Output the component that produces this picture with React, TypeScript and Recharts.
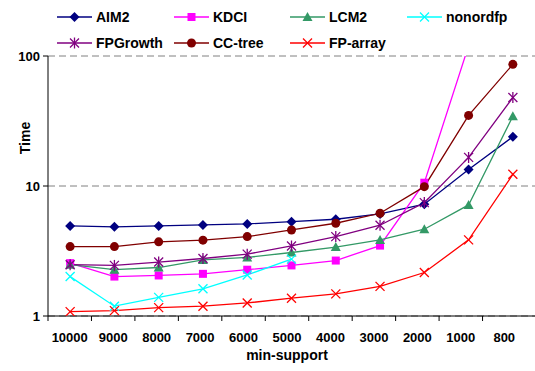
import { LineChart, Line, XAxis, YAxis, CartesianGrid } from "recharts";

const categories = ["10000", "9000", "8000", "7000", "6000", "5000", "4000", "3000", "2000", "1000", "800"];

const aim2 = [4.93, 4.85, 4.93, 5.02, 5.11, 5.32, 5.55, 6.1, 7.24, 13.4, 23.9];
const kdci = [2.55, 2.01, 2.05, 2.11, 2.27, 2.45, 2.67, 3.48, 10.6, 120, null];
const lcm2 = [2.48, 2.27, 2.36, 2.7, 2.82, 3.08, 3.39, 3.85, 4.65, 7.15, 34.4];
const nonordfp = [2.01, 1.19, 1.39, 1.62, 2.07, 2.74, null, null, null, null, null];
const fpgrowth = [2.48, 2.45, 2.6, 2.77, 2.99, 3.46, 4.08, 4.99, 7.45, 16.6, 47.9];
const cctree = [3.42, 3.42, 3.72, 3.83, 4.08, 4.59, 5.17, 6.17, 9.88, 34.9, 86.3];
const fparray = [1.08, 1.1, 1.16, 1.19, 1.26, 1.37, 1.48, 1.69, 2.16, 3.85, 12.3];

const yTicks = [1, 10, 100];

type Shape = "diamond" | "square" | "triangle" | "x" | "star" | "circle";

const series: { key: string; name: string; values: (number | null)[]; color: string; shape: Shape }[] = [
  { key: "aim2", name: "AIM2", values: aim2, color: "#000080", shape: "diamond" },
  { key: "kdci", name: "KDCI", values: kdci, color: "#FF00FF", shape: "square" },
  { key: "lcm2", name: "LCM2", values: lcm2, color: "#339966", shape: "triangle" },
  { key: "nonordfp", name: "nonordfp", values: nonordfp, color: "#00FFFF", shape: "x" },
  { key: "fpgrowth", name: "FPGrowth", values: fpgrowth, color: "#800080", shape: "star" },
  { key: "cctree", name: "CC-tree", values: cctree, color: "#800000", shape: "circle" },
  { key: "fparray", name: "FP-array", values: fparray, color: "#FF0000", shape: "x" },
];

const data = categories.map((c, i) => {
  const row: Record<string, any> = { cat: c };
  series.forEach((s) => (row[s.key] = s.values[i]));
  return row;
});

const FONT = "'Liberation Sans', Arial, sans-serif";

function marker(shape: Shape, color: string, cx: number, cy: number, key?: any) {
  switch (shape) {
    case "diamond":
      return <polygon key={key} points={`${cx},${cy - 5} ${cx + 5},${cy} ${cx},${cy + 5} ${cx - 5},${cy}`} fill={color} />;
    case "square":
      return <rect key={key} x={cx - 4} y={cy - 4} width={8} height={8} fill={color} />;
    case "triangle":
      return <polygon key={key} points={`${cx},${cy - 5} ${cx + 5},${cy + 4} ${cx - 5},${cy + 4}`} fill={color} />;
    case "circle":
      return <circle key={key} cx={cx} cy={cy} r={4.5} fill={color} />;
    case "x":
      return (
        <g key={key} stroke={color} strokeWidth={1.3}>
          <line x1={cx - 4.5} y1={cy - 4.5} x2={cx + 4.5} y2={cy + 4.5} />
          <line x1={cx - 4.5} y1={cy + 4.5} x2={cx + 4.5} y2={cy - 4.5} />
        </g>
      );
    case "star":
      return (
        <g key={key} stroke={color} strokeWidth={1.3}>
          <line x1={cx - 4.5} y1={cy - 4.5} x2={cx + 4.5} y2={cy + 4.5} />
          <line x1={cx - 4.5} y1={cy + 4.5} x2={cx + 4.5} y2={cy - 4.5} />
          <line x1={cx} y1={cy - 5.5} x2={cx} y2={cy + 5.5} />
        </g>
      );
  }
}

const makeDot = (shape: Shape, color: string) => (props: any) => {
  const { cx, cy, value, key } = props;
  if (value == null || cx == null || cy == null || value > 100) return <g key={key} />;
  return marker(shape, color, cx, cy, key);
};

const BAND = 43.45;

const XTick = (props: any) => {
  const { x, y, payload } = props;
  return (
    <g>
      <line x1={x - BAND / 2} y1={y - 8} x2={x - BAND / 2} y2={y - 3} stroke="#000" />
      <text x={x} y={y + 18} textAnchor="middle" fontFamily={FONT} fontWeight="bold" fontSize={13} fill="#000">
        {payload.value}
      </text>
    </g>
  );
};

const legendPos = [
  [57, 17], [174, 17], [290, 17], [407, 17],
  [57, 43], [174, 43], [290, 43],
];

export default function App() {
  return (
    <div style={{ position: "absolute", left: 0, top: 0, width: 535, height: 371, background: "#fff" }}>
      <LineChart width={535} height={371} data={data} margin={{ top: 56, right: 0, bottom: 0, left: 0 }}>
        <CartesianGrid vertical={false} stroke="#808080" strokeDasharray="7 4" yAxisId="y" xAxisId="lab" />
        <XAxis xAxisId="data" dataKey="cat" type="category" scale="band" hide height={0} />
        <XAxis
          xAxisId="lab"
          dataKey="cat"
          type="category"
          scale="band"
          height={55}
          padding={{ left: 0, right: 9 }}
          axisLine={{ stroke: "#000" }}
          tickLine={false}
          tick={<XTick />}
          interval={0}
          label={{
            content: () => (
              <text x={48 + 478 / 2} y={360} textAnchor="middle" fontFamily={FONT} fontWeight="bold" fontSize={14} fill="#000">
                min-support
              </text>
            ),
          }}
        />
        <YAxis
          yAxisId="y"
          type="number"
          scale="log"
          domain={[1, 100]}
          ticks={yTicks}
          allowDataOverflow
          width={48}
          axisLine={{ stroke: "#000" }}
          tickLine={{ stroke: "#000" }}
          tickSize={5}
          tickMargin={3}
          tick={{ fontFamily: FONT, fontWeight: "bold", fontSize: 13, fill: "#000" }}
          label={{
            content: () => (
              <text x={25} y={138} transform="rotate(-90 25 138)" textAnchor="middle" dominantBaseline="central" fontFamily={FONT} fontWeight="bold" fontSize={14} fill="#000">
                Time
              </text>
            ),
          }}
        />
        {series.map((s) => (
          <Line
            key={s.key}
            xAxisId="data"
            yAxisId="y"
            dataKey={s.key}
            name={s.name}
            stroke={s.color}
            strokeWidth={1.3}
            dot={makeDot(s.shape, s.color)}
            activeDot={false}
            isAnimationActive={false}
          />
        ))}
      </LineChart>
      <svg width={535} height={60} style={{ position: "absolute", left: 0, top: 0 }}>
        {series.map((s, i) => {
          const [lx, ly] = legendPos[i];
          return (
            <g key={s.key}>
              <line x1={lx} y1={ly} x2={lx + 35} y2={ly} stroke={s.color} strokeWidth={1.5} />
              {marker(s.shape, s.color, lx + 17.5, ly)}
              <text x={lx + 39} y={ly} dominantBaseline="central" fontFamily={FONT} fontWeight="bold" fontSize={14} fill="#000">
                {s.name}
              </text>
            </g>
          );
        })}
      </svg>
    </div>
  );
}
